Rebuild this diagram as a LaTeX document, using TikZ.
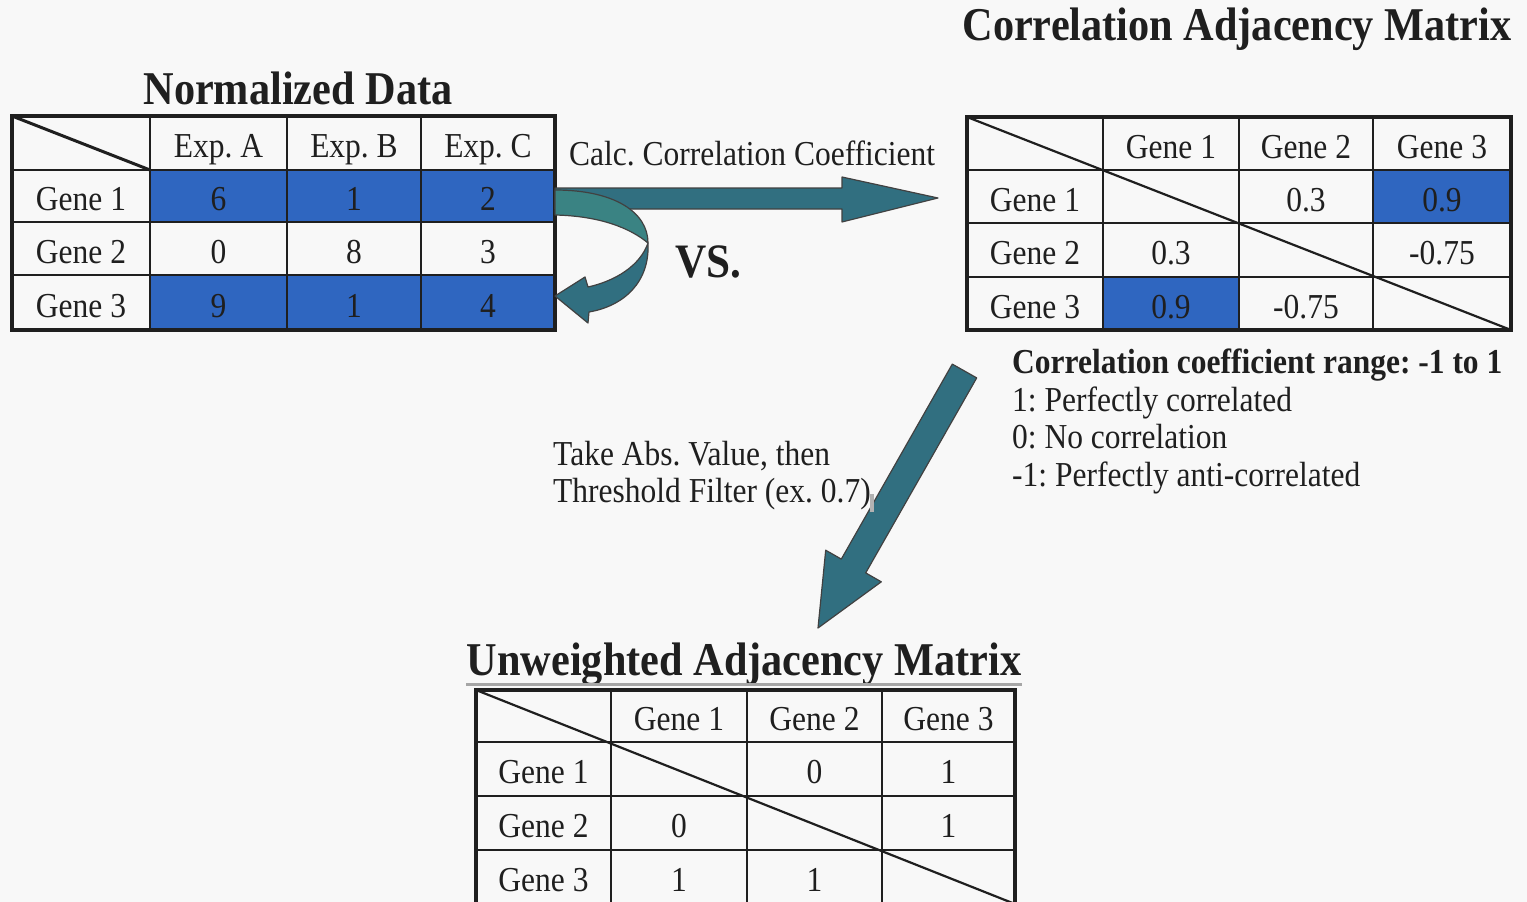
\documentclass[tikz,border=0pt]{standalone}
\usepackage{fontspec}
\setmainfont{Liberation Serif}[FakeStretch=0.9]
\frenchspacing
\definecolor{ink}{HTML}{1F1F1F}
\definecolor{cellblue}{HTML}{2F66C0}
\definecolor{arrowteal}{HTML}{316F80}
\definecolor{bandteal}{HTML}{3A8383}
\definecolor{paper}{HTML}{F8F8F8}
\begin{document}
\begin{tikzpicture}[x=1pt,y=-1pt,
  cell/.style={anchor=base, inner sep=0pt, text=ink, font=\fontsize{35}{40}\selectfont},
  heading/.style={anchor=base, inner sep=0pt, text=ink, font=\bfseries\fontsize{47}{52}\selectfont},
  label/.style={anchor=base west, inner sep=0pt, text=ink, font=\fontsize{35}{40}\selectfont},
  gridline/.style={draw=ink, line width=1.8pt},
  frameline/.style={draw=ink, line width=4pt},
  blockarrow/.style={fill=arrowteal, draw=ink!85, line width=1.2pt, line join=round},
]
% page
\fill[paper] (0,0) rectangle (1527,902);
\useasboundingbox (0,0) rectangle (1527,902);

% ---------- Normalized data table ----------
\node[heading] (tl) at (298,104) {Normalized Data};
\fill[cellblue] (150,170) rectangle (555,222);
\fill[cellblue] (150,275) rectangle (555,330);
\foreach \x in {150,287,421} \draw[gridline] (\x,116) -- (\x,330);
\foreach \y in {170,222,275} \draw[gridline] (12,\y) -- (555,\y);
\draw[frameline] (12,116) rectangle (555,330);
\draw[draw=ink, line width=3pt] (12,116) -- (150,170);
\foreach \x/\y/\t [count=\i] in {
  218.5/143/Exp. A, 354/143/Exp. B, 488/143/Exp. C,
  81/196/Gene 1, 218.5/196/6, 354/196/1, 488/196/2,
  81/248.5/Gene 2, 218.5/248.5/0, 354/248.5/8, 488/248.5/3,
  81/302.5/Gene 3, 218.5/302.5/9, 354/302.5/1, 488/302.5/4}
  \node[cell] (nd-\i) at (\x,\y+14.5) {\t};

% ---------- Correlation adjacency matrix ----------
\node[heading] (tc) at (1237,40) {Correlation Adjacency Matrix};
\fill[cellblue] (1373,170) rectangle (1511,223);
\fill[cellblue] (1103,277) rectangle (1239,330);
\foreach \x in {1103,1239,1373} \draw[gridline] (\x,117) -- (\x,330);
\foreach \y in {170,223,277} \draw[gridline] (967,\y) -- (1511,\y);
\draw[frameline] (967,117) rectangle (1511,330);
\draw[draw=ink, line width=2.2pt] (967,117) -- (1511,330);
\foreach \x/\y/\t [count=\i] in {
  1171/143.5/Gene 1, 1306/143.5/Gene 2, 1442/143.5/Gene 3,
  1035/196.5/Gene 1, 1306/196.5/0.3, 1442/196.5/0.9,
  1035/250/Gene 2, 1171/250/0.3, 1442/250/-0.75,
  1035/303.5/Gene 3, 1171/303.5/0.9, 1306/303.5/-0.75}
  \node[cell] (cm-\i) at (\x,\y+14.5) {\t};

\node[label, font=\bfseries\fontsize{35}{40}\selectfont] (rg0) at (1012,373) {Correlation coefficient range: -1 to 1};
\node[label] (rg1) at (1012,411) {1: Perfectly correlated};
\node[label] (rg2) at (1012,448) {0: No correlation};
\node[label] (rg3) at (1012,486) {-1: Perfectly anti-correlated};

% ---------- Unweighted adjacency matrix ----------
\node[heading] (tu) at (744,675) {Unweighted Adjacency Matrix};
\draw[draw=gray!70, line width=3pt] (466,684) -- (1022,684);
\foreach \x in {611,747,882} \draw[gridline] (\x,690) -- (\x,904);
\foreach \y in {742,796,850} \draw[gridline] (476,\y) -- (1015,\y);
\draw[frameline] (476,690) rectangle (1015,904);
\draw[draw=ink, line width=2.2pt] (476,690) -- (1015,904);
\foreach \x/\y/\t [count=\i] in {
  679/716/Gene 1, 814.5/716/Gene 2, 948.5/716/Gene 3,
  543.5/769/Gene 1, 814.5/769/0, 948.5/769/1,
  543.5/823/Gene 2, 679/823/0, 948.5/823/1,
  543.5/877/Gene 3, 679/877/1, 814.5/877/1}
  \node[cell] (um-\i) at (\x,\y+14.5) {\t};

% ---------- arrows ----------
% straight arrow towards the correlation matrix
\draw[blockarrow] (555,188) -- (842,188) -- (842,177) -- (938,198)
  -- (842,222) -- (842,209) -- (555,209) -- cycle;
\node[label] (calc) at (569,165) {Calc. Correlation Coefficient};

% curved arrow from gene 1 back to gene 3
\draw[blockarrow, fill=bandteal] (555,190) .. controls (614,190) and (648,212) .. (648,243)
  .. controls (630,228) and (600,216) .. (555,215) -- cycle;
\draw[blockarrow] (648,243) .. controls (650,282) and (624,306) .. (589,312)
  -- (588,323) -- (555,296) -- (585,277) -- (588,287)
  .. controls (615,281) and (640,266) .. (648,243) -- cycle;
\node[anchor=base west, inner sep=0pt, text=ink, font=\bfseries\fontsize{48}{52}\selectfont] (vs) at (675,277) {VS.};

% diagonal arrow down to the unweighted matrix
\draw[blockarrow] (952.3,364.1) -- (976.7,377.9) -- (865.7,572.9) -- (881.3,581.8)
  -- (818,628) -- (825.7,550.2) -- (841.3,559.1) -- cycle;
\node[label] (abs1) at (553,465) {Take Abs. Value, then};
\node[label] (abs2) at (553,502) {Threshold Filter (ex. 0.7)};
\fill[gray!60] (870,494) rectangle (874,512);
\end{tikzpicture}
\end{document}
